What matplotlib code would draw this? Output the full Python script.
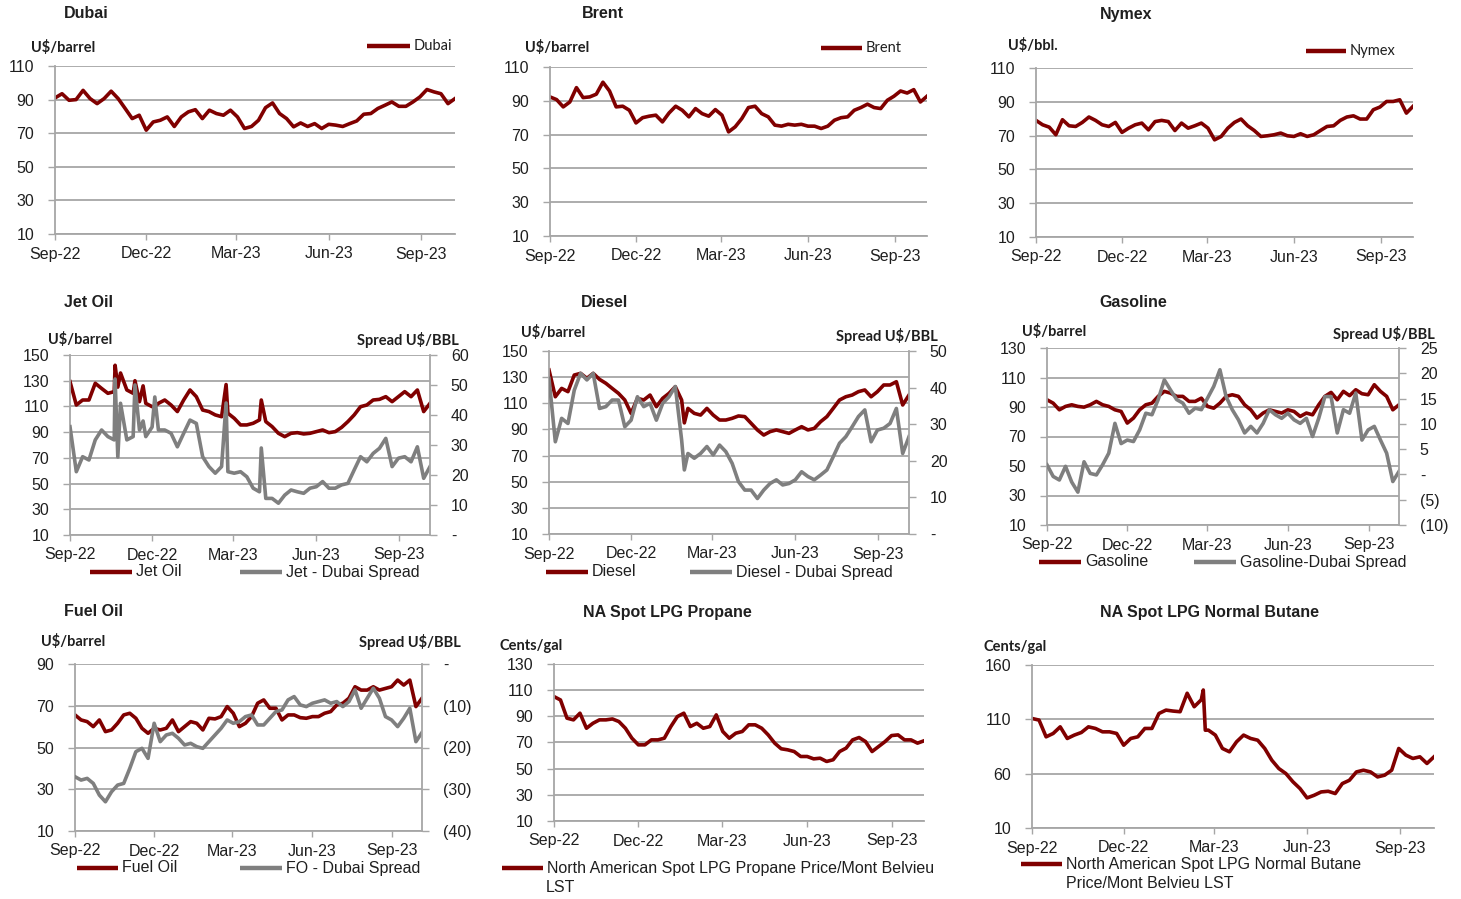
import numpy as np
import pandas as pd
import matplotlib
matplotlib.use('Agg')
import matplotlib.pyplot as plt
from matplotlib.lines import Line2D
from matplotlib.ticker import FuncFormatter

W, H = 1461, 899
RED  = '#800000'
GREY = '#7f7f7f'
GRID = '#a6a6a6'
TXT  = '#1f1f1f'

plt.rcParams['font.family'] = ['Liberation Sans', 'DejaVu Sans']

# weekly observations, Sep 1 2022 .. Oct 5 2023
weeks = pd.date_range('2022-09-01', periods=58, freq='7D')
month_ticks  = pd.to_datetime(['2022-09-01', '2022-12-01', '2023-03-01', '2023-06-01', '2023-09-01'])
month_labels = ['Sep-22', 'Dec-22', 'Mar-23', 'Jun-23', 'Sep-23']

dubai = [91, 93.5, 89.6, 90, 95.5, 90.6, 87.6, 90.6, 95, 90.6, 84.7, 78.7, 80.7, 71.8, 76.7, 77.7,
         79.7, 74, 79.7, 82.7, 84, 78.7, 83.7, 81.7, 80.7, 83.7, 79.7, 72.8, 74, 77.7, 85.2, 88,
         81.7, 78.7, 73.8, 76.1, 74, 75.7, 72.8, 75.3, 74.8, 74, 75.7, 77.3, 81.3, 81.7, 84.7, 86.6,
         88.6, 86, 86, 88.6, 91.6, 96, 94.6, 93.5, 87.6, 90.6]
brent = [92.3, 90.7, 86.4, 89.3, 97.8, 91.9, 92.3, 93.9, 101, 95.8, 86.4, 86.8, 84.4, 76.9, 80, 80.9,
         81.5, 77.5, 82.8, 86.8, 84.4, 80.5, 85.4, 82.4, 80.9, 84.8, 81.5, 71.6, 74.6, 79.5, 86, 86.8,
         82.4, 80.5, 75.6, 75, 76.1, 75.6, 76.1, 75, 75, 73.6, 75, 78.5, 80, 80.5, 84.4, 86,
         88, 86, 85.4, 90.3, 92.7, 95.8, 94.6, 96.6, 89.3, 92.7]
nymex = [79, 76.4, 75, 70.5, 79.4, 75.8, 75.4, 77.8, 81, 79, 76.4, 75.4, 77.8, 71.9, 74.4, 76.4,
         77.4, 73.4, 78.3, 79, 78.3, 73, 77.4, 74.4, 75.8, 77.4, 74.4, 67.5, 69.5, 74.4, 77.8, 79.8,
         75.8, 73, 69.5, 69.9, 70.5, 71.5, 69.9, 69.5, 71.1, 69.5, 70.5, 73, 75.4, 75.8, 79, 81,
         81.7, 79.8, 79.8, 85.3, 86.9, 90.2, 90.2, 91.2, 83.3, 87.3]

jet = [129.3, 111.1, 115, 115, 128, 124, 120.2, 121.5, 136, 122.8, 120.2, 113.7, 112.4, 109.8, 112.4, 115,
       111.1, 106, 115, 122.8, 117.6, 107.2, 106, 103.4, 102, 104.7, 100.8, 95.6, 95.6, 96.9, 99.5, 98.2,
       94.3, 89.1, 86.5, 89.1, 89.6, 88.6, 89.1, 90.4, 91.7, 89.6, 90.4, 93.7, 98.2, 103.4, 109.8, 111.1,
       115, 115.5, 117.6, 113.7, 117.6, 121.5, 117.6, 122.8, 106, 112.4]
jet_spread = [36.1, 21.1, 26.1, 25, 31.7, 35, 32.8, 31.7, 43.9, 31.7, 32.8, 35, 32.8, 36, 35, 35,
              33.9, 29.4, 33.9, 38.3, 37.2, 26.1, 22.8, 20.6, 22.8, 21.1, 20.6, 21.1, 19.4, 15.6, 14.4, 12.2,
              12.2, 10.6, 13.3, 15, 14.4, 13.9, 15.6, 16.1, 17.8, 15.6, 15.6, 16.7, 17.2, 21.7, 26.1, 24.4,
              27.2, 28.9, 32.2, 22.8, 25.6, 26.1, 24.4, 29.4, 18.9, 22.8]
# short-lived spikes (days after Sep 1 2022)
jet_spike_days   = [50, 53, 72, 81, 94, 173, 212]
jet_spike        = [142, 125, 130, 126, 110, 127, 115]
jet_spread_spike = [52, 26, 50, 38, 46, 44, 29]

diesel = [135.5, 115, 121.4, 118.9, 131.6, 132.9, 129.1, 132.9, 128.3, 125.3, 121.4, 117.6, 112.5, 102.3, 113.8, 112.5,
          116.3, 107.4, 113.8, 117.6, 122.7, 112.5, 106.1, 102.3, 101, 106.1, 101, 97.2, 97.2, 98.5, 100.3, 99.8,
          94.7, 89.6, 85.7, 88.3, 89.6, 88.3, 87, 89.6, 92.1, 89.6, 90.8, 95.9, 99.8, 106.1, 112.5, 115,
          116.3, 118.9, 120.2, 115, 118.9, 124, 124, 126.5, 108.7, 116.3]
diesel_spread = [42.5, 25.2, 31.6, 30.2, 39.3, 43.9, 42.1, 43.9, 34.3, 34.8, 36.6, 36.6, 29.3, 31.1, 37.5, 34.8,
                 35.7, 31.1, 35.7, 37.5, 40.3, 25.7, 22, 20.7, 22, 23.9, 21.6, 24.3, 22.5, 19.3, 14.3, 12,
                 12, 9.7, 12, 13.8, 14.8, 13.4, 13.8, 14.8, 17, 15.7, 14.8, 16.1, 17.5, 21.1, 24.8, 26.6,
                 29.3, 32.1, 33.9, 25.2, 28.4, 28.9, 30.2, 34.3, 22, 26.6]
diesel_spike_days   = [150]
diesel_spike        = [95]
diesel_spread_spike = [17.5]

gasoline = [94.9, 92.6, 88.1, 90.4, 91.5, 90.4, 89.9, 91.5, 93.8, 91.5, 90.4, 88.1, 87, 79.1, 82.5, 88.1,
            91.5, 92.6, 97.2, 100.6, 99.4, 97.2, 97.2, 93.8, 93.8, 96, 90.4, 89.2, 92.6, 97.2, 98.3, 97.2,
            91.5, 88.1, 82.5, 85.9, 88.1, 87, 85.9, 88.1, 87, 83.6, 85.9, 84.7, 91.5, 97.2, 99.9, 94.9,
            100.6, 97.7, 101.7, 99, 98.3, 105.1, 100.6, 97.2, 88.1, 91.5]
gas_spread = [1.9, -0.4, -1.1, 1.6, -1.5, -3.5, 2.5, 0.2, -0.1, 1.9, 4.2, 10.1, 6.1, 6.8, 6.5, 8.8,
              12.1, 11.8, 14.8, 18.7, 16.7, 14.8, 14.1, 12.1, 13.1, 12.8, 15.1, 17.4, 20.7, 15.4, 12.8, 10.8,
              8.2, 9.5, 8.2, 10.1, 12.8, 11.8, 11.1, 12.1, 10.8, 10.1, 11.1, 7.5, 11.1, 15.4, 15.4, 8.2,
              12.8, 12.1, 16.1, 6.8, 8.8, 9.5, 6.8, 4.2, -1.4, 0.6]

fuel_oil = [65.6, 63.2, 62.4, 60, 63.2, 57.6, 58.4, 61.6, 65.6, 66.4, 64, 59.2, 56.8, 59.2, 58.4, 59.2,
            63.2, 57.6, 60, 62.4, 61.6, 58.4, 64, 63.7, 64.8, 69.6, 66.4, 60, 61.6, 64.8, 71.2, 72.8,
            68.8, 68.8, 63.2, 65.6, 65.6, 64.3, 64, 64.8, 64.8, 66.4, 67.2, 70.4, 71.2, 73.6, 79.1, 77.5,
            77.5, 79.1, 77.5, 78.3, 79.1, 82.3, 79.9, 82.3, 69.6, 73.6]
fo_spread = [-27, -27.8, -27.4, -28.6, -31.4, -33, -30.6, -29, -28.6, -25, -21, -20.2, -22.6, -14.2, -18.6, -17,
             -16.6, -17.8, -19.4, -19, -19.8, -20.2, -18.6, -17, -15.4, -13.4, -14.2, -13.8, -12.6, -12.2, -14.6, -14.6,
             -13, -11.4, -11, -8.6, -7.8, -9.8, -10.2, -9.4, -9, -8.6, -9.4, -9, -10.2, -9, -6.2, -10.6,
             -8.2, -5.8, -8.2, -12.6, -13.4, -15, -13, -10.6, -18.6, -16.4]

propane = [105.1, 102.5, 88.6, 87.3, 92.4, 80.9, 84.7, 87.3, 87.3, 88, 86, 80.9, 73.3, 68.2, 68.2, 72,
           72, 73.3, 82.2, 89.8, 92.4, 82.2, 84.7, 80.9, 82.2, 91.1, 78.4, 73.3, 77.1, 78.4, 83.5, 83.5,
           80.9, 75.8, 69.5, 65.2, 64.4, 63.1, 59.3, 59.3, 57.5, 58, 55.5, 56.8, 63.1, 65.7, 72, 73.8,
           70.7, 63.1, 66.9, 70.7, 75.3, 75.8, 72, 72, 69.5, 71.3]
butane = [110.8, 109.3, 93.9, 97, 103.1, 92.4, 95.5, 97.9, 103.1, 101.6, 98.5, 98.5, 97, 86.2, 92.4, 93.9,
          101.6, 101.6, 115.4, 118.5, 117.6, 117, 134, 121.6, 128, 100.1, 95.5, 83.2, 80.1, 89.3, 95.5, 92.4,
          90.8, 83.2, 72.4, 64.7, 60.1, 52.5, 46.3, 37.7, 40.1, 43.2, 43.8, 41.7, 50.9, 53.9, 61.6, 63.2,
          61.6, 57, 58.6, 63.2, 83.2, 77.1, 74, 75.5, 69.4, 75.5]
butane_spike_days = [170, 172]
butane_spike      = [137, 100]


def series(values, spike_days=(), spike_vals=()):
    s = pd.Series(values, index=weeks, dtype=float)
    if len(spike_days):
        extra = pd.Series(spike_vals, dtype=float,
                          index=weeks[0] + pd.to_timedelta(spike_days, unit='D'))
        s = pd.concat([s, extra]).sort_index()
    return s


fig = plt.figure(figsize=(W / 100, H / 100), dpi=100)
X0, X1 = weeks[0], weeks[-1]


def px(x, y):
    return x / W, 1 - y / H


def panel(box, ylim, ystep):
    l, t, r, b = box
    ax = fig.add_axes([l / W, 1 - b / H, (r - l) / W, (b - t) / H])
    ax.set_xlim(X0, X1)
    ax.set_ylim(*ylim)
    ax.set_yticks(np.arange(ylim[0], ylim[1] + 0.1, ystep))
    ax.set_xticks(month_ticks)
    ax.set_xticklabels(month_labels)
    ax.grid(axis='y', color=GRID, lw=1.3)
    ax.set_axisbelow(True)
    for s in ['top', 'right']:
        ax.spines[s].set_visible(False)
    for s in ['left', 'bottom']:
        ax.spines[s].set_color(GRID)
        ax.spines[s].set_linewidth(1.3)
    ax.tick_params(axis='x', length=4, width=1, color=GRID, pad=5, labelsize=11.5, labelcolor=TXT)
    ax.tick_params(axis='y', length=5, width=1, color=GRID, pad=10, labelsize=11.5, labelcolor=TXT)
    return ax


def dash_paren(v, pos):
    if abs(v) < 1e-9:
        return '-'
    if v < 0:
        return f'({-v:.0f})'
    return f'{v:.0f}'


def twin(ax, ylim, ystep):
    ax2 = ax.twinx()
    ax2.set_ylim(*ylim)
    ax2.set_yticks(np.arange(ylim[0], ylim[1] + 0.1, ystep))
    ax2.yaxis.set_major_formatter(FuncFormatter(dash_paren))
    for s in ['top', 'left', 'bottom']:
        ax2.spines[s].set_visible(False)
    ax2.spines['right'].set_color(GRID)
    ax2.spines['right'].set_linewidth(1.3)
    ax2.tick_params(axis='y', length=5, width=1, color=GRID, pad=10, labelsize=11.5, labelcolor=TXT)
    return ax2


def title(x, y, s):
    fig.text(*px(x, y), s, ha='center', va='center', fontsize=11.5, fontweight='bold', color=TXT)


def unit(x, y, s, ha='left'):
    fig.text(*px(x, y), s, ha=ha, va='center', fontsize=10.5, fontweight='bold',
             family=['Lato', 'DejaVu Sans'], color=TXT)


def key(x0, x1, y, color, label, calibri=False, size=11.5):
    fig.add_artist(Line2D([x0 / W, x1 / W], [1 - y / H] * 2, color=color, lw=3.2,
                          solid_capstyle='butt', transform=fig.transFigure))
    fam = ['Lato', 'DejaVu Sans'] if calibri else ['Liberation Sans', 'DejaVu Sans']
    fig.text(*px(x1 + 4, y), label, ha='left', va='center', fontsize=size, family=fam, color=TXT)


LW = 2.6

# ---- top row: crude benchmarks
for box, data, name, ulabel, tpos, upos, kpos in [
    ((55, 66, 455, 234), dubai, 'Dubai', 'U$/barrel', (86, 14), (31, 47), (367, 410, 46)),
    ((550, 67, 927, 236), brent, 'Brent', 'U$/barrel', (603, 14), (525, 48), (821, 862, 48)),
    ((1036, 68, 1413, 237), nymex, 'Nymex', 'U$/bbl.', (1126, 14), (1008, 46), (1306, 1346, 51)),
]:
    ax = panel(box, (10, 110), 20)
    s = series(data)
    ax.plot(s.index, s.values, color=RED, lw=LW)
    title(*tpos, name)
    unit(*upos, ulabel)
    key(*kpos, RED, name, calibri=True, size=10.5)

# ---- middle row + fuel oil: product vs spread
duals = [
    ((70, 355, 430, 535), (10, 150), 20, (0, 60), 10,
     series(jet, jet_spike_days, jet_spike), series(jet_spread, jet_spike_days, jet_spread_spike),
     'Jet Oil', (89, 302), (48, 339), (459, 340),
     (90, 132, 135, 240, 282, 572), 'Jet Oil', 'Jet - Dubai Spread'),
    ((549, 351, 909, 534), (10, 150), 20, (0, 50), 10,
     series(diesel, diesel_spike_days, diesel_spike), series(diesel_spread, diesel_spike_days, diesel_spread_spike),
     'Diesel', (605, 302), (521, 333), (938, 336),
     (546, 588, 591, 690, 732, 572), 'Diesel', 'Diesel - Dubai Spread'),
    ((1047, 348, 1399, 525), (10, 130), 20, (-10, 25), 5,
     series(gasoline), series(gas_spread),
     'Gasoline', (1133, 302), (1022, 332), (1435, 334),
     (1039, 1081, 1084, 1194, 1236, 562), 'Gasoline', 'Gasoline-Dubai Spread'),
    ((75, 664, 422, 831), (10, 90), 20, (-40, 0), 10,
     series(fuel_oil), series(fo_spread),
     'Fuel Oil', (93, 612), (41, 641), (461, 642),
     (77, 118, 121, 240, 282, 868), 'Fuel Oil', 'FO - Dubai Spread'),
]
for box, yl, ys, yr, yrs, s1, s2, name, tpos, upos, spos, kp, lab1, lab2 in duals:
    ax = panel(box, yl, ys)
    ax2 = twin(ax, yr, yrs)
    ax.plot(s1.index, s1.values, color=RED, lw=LW)
    ax2.plot(s2.index, s2.values, color=GREY, lw=LW)
    title(*tpos, name)
    unit(*upos, 'U$/barrel')
    unit(*spos, 'Spread U$/BBL', ha='right')
    key(kp[0], kp[1], kp[5], RED, lab1)
    key(kp[3], kp[4], kp[5], GREY, lab2)

# ---- LPG
ax = panel((554, 664, 924, 821), (10, 130), 20)
s = series(propane)
ax.plot(s.index, s.values, color=RED, lw=LW)
title(667, 612, 'NA Spot LPG Propane')
unit(500, 646, 'Cents/gal')
key(502, 543, 868, RED, 'North American Spot LPG Propane Price/Mont Belvieu')
fig.text(*px(546, 887), 'LST', ha='left', va='center', fontsize=11.5, color=TXT)

ax = panel((1032, 665, 1434, 828), (10, 160), 50)
s = series(butane, butane_spike_days, butane_spike)
ax.plot(s.index, s.values, color=RED, lw=LW)
title(1210, 612, 'NA Spot LPG Normal Butane')
unit(983, 647, 'Cents/gal')
key(1021, 1062, 864, RED, 'North American Spot LPG Normal Butane')
fig.text(*px(1066, 883), 'Price/Mont Belvieu LST', ha='left', va='center', fontsize=11.5, color=TXT)

fig.savefig('out.png', dpi=100, facecolor='white')
